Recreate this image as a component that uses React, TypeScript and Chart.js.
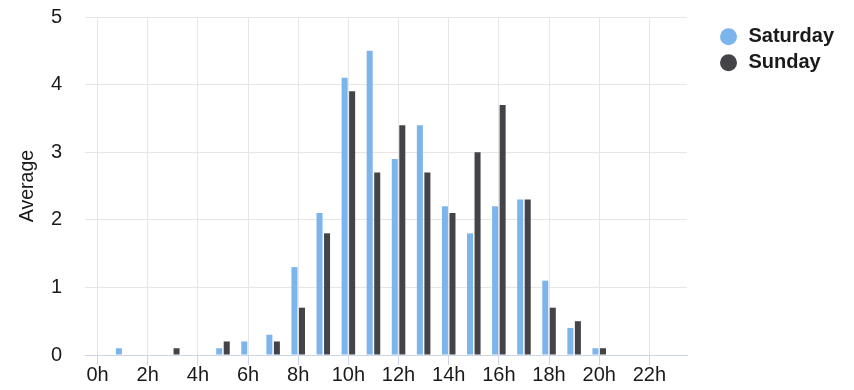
import { useEffect, useRef } from 'react';
import { Chart, registerables } from 'chart.js';

Chart.register(...registerables);

const hours = ['0h', '1h', '2h', '3h', '4h', '5h', '6h', '7h', '8h', '9h', '10h', '11h',
  '12h', '13h', '14h', '15h', '16h', '17h', '18h', '19h', '20h', '21h', '22h', '23h'];

const saturday = [0, 0.1, 0, 0, 0, 0.1, 0.2, 0.3, 1.3, 2.1, 4.1, 4.5,
  2.9, 3.4, 2.2, 1.8, 2.2, 2.3, 1.1, 0.4, 0.1, 0, 0, 0];

const sunday = [0, 0, 0, 0.1, 0, 0.2, 0, 0.2, 0.7, 1.8, 3.9, 2.7,
  3.4, 2.7, 2.1, 3.0, 3.7, 2.3, 0.7, 0.5, 0.1, 0, 0, 0];

const yTicks = [0, 1, 2, 3, 4, 5];

const FONT = '"Liberation Sans", Arial, Helvetica, sans-serif';
const TEXT = '#1a1a1a';

const legendPlacer = {
  id: 'legendPlacer',
  beforeLayout(chart: any) {
    const lg = chart.legend;
    if (lg && !lg.__patched) {
      const orig = lg.fit;
      lg.fit = function () {
        orig.call(this);
        this.width = 167;
      };
      lg.__patched = true;
    }
  },
  afterLayout(chart: any) {
    const lg = chart.legend;
    if (!lg) return;
    const w = lg.right - lg.left;
    const h = lg.bottom - lg.top;
    lg.left = 712.5;
    lg.right = lg.left + w;
    lg.top = 20.7;
    lg.bottom = lg.top + h;
  },
};

export default function App() {
  const ref = useRef<HTMLCanvasElement | null>(null);

  useEffect(() => {
    document.body.style.margin = '0';
    if (!ref.current) return;
    const chart = new Chart(ref.current, {
      type: 'bar',
      data: {
        labels: hours,
        datasets: [
          { label: 'Saturday', data: saturday, backgroundColor: '#7cb5ec', borderWidth: 0 },
          { label: 'Sunday', data: sunday, backgroundColor: '#434348', borderWidth: 0 },
        ],
      },
      options: {
        responsive: false,
        animation: false,
        devicePixelRatio: 1,
        datasets: { bar: { categoryPercentage: 0.6, barPercentage: 0.8 } },
        layout: { padding: { top: 17, left: 0, right: 0, bottom: 0 } },
        plugins: {
          legend: {
            position: 'right',
            align: 'start',
            labels: {
              usePointStyle: true,
              pointStyle: 'circle',
              boxWidth: 20,
              boxHeight: 12,
              padding: 6,
              color: TEXT,
              font: { family: FONT, size: 20, weight: 'bold' },
            },
          },
          tooltip: { enabled: false },
        },
        scales: {
          x: {
            grid: {
              offset: false,
              drawTicks: true,
              tickLength: 10,
              color: (ctx: any) => (ctx.index % 2 === 0 ? '#e6e6e6' : 'rgba(0,0,0,0)'),
              tickColor: (ctx: any) => (ctx.index % 2 === 0 ? '#ccd6eb' : 'rgba(0,0,0,0)'),
            },
            border: { display: true, color: '#ccd6eb', width: 1 },
            ticks: {
              autoSkip: false,
              maxRotation: 0,
              padding: 0,
              color: TEXT,
              font: { family: FONT, size: 20, lineHeight: 1 },
              callback: (_v: any, i: number) => (i % 2 === 0 ? hours[i] : ''),
            },
            afterFit: (s: any) => {
              s.height = 35;
            },
          },
          y: {
            min: yTicks[0],
            max: yTicks[yTicks.length - 1],
            grid: { color: '#e6e6e6', drawTicks: true, tickLength: 23, tickColor: 'rgba(0,0,0,0)' },
            border: { display: false },
            ticks: {
              stepSize: 1,
              padding: 0,
              color: TEXT,
              font: { family: FONT, size: 20 },
            },
            title: {
              display: true,
              text: 'Average',
              color: TEXT,
              font: { family: FONT, size: 19.5 },
              padding: { top: 16, bottom: 0 },
            },
            afterFit: (s: any) => {
              s.width = 85;
            },
          },
        },
      },
      plugins: [legendPlacer],
    } as any);
    return () => chart.destroy();
  }, []);

  return <canvas ref={ref} width={854} height={390} style={{ display: 'block' }} />;
}
